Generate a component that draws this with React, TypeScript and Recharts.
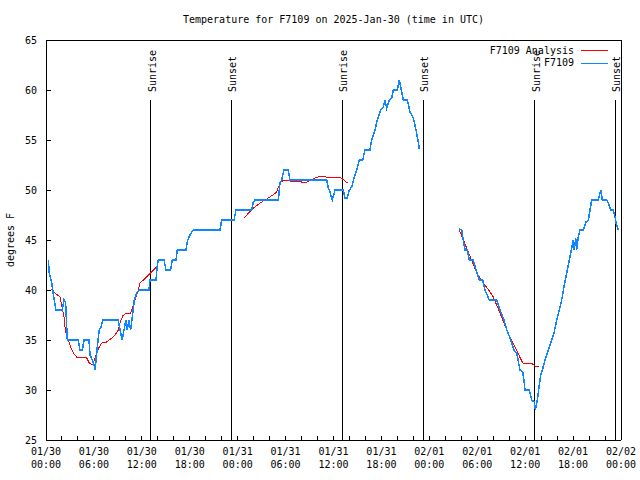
import React from 'react';
import { LineChart, Line, XAxis, YAxis, ReferenceLine, Legend } from 'recharts';

const FONT = '"DejaVu Sans Mono", "Liberation Mono", monospace';
const RED = '#ff0000';
const BLUE = '#0f85ff';

// Observed temperature (F7109): hours since 01/30 00:00 UTC, degrees F (null = gap)
const obsHours = [
  0.29, 0.41, 0.71, 0.84, 1.0, 1.13, 1.25, 2.04, 2.25, 2.46, 2.67, 4.04, 4.26, 4.55, 4.76, 5.38, 5.51, 5.8, 6.01, 6.14,
  6.35, 6.55, 6.67, 6.89, 7.1, 9.05, 9.27, 9.55, 9.77, 9.98, 10.18, 10.39, 10.6, 10.86, 11.06, 11.36, 11.77, 12.9, 13.02, 13.77,
  13.94, 14.06, 14.78, 15.03, 15.61, 15.81, 16.28, 16.44, 17.53, 17.74, 18.03, 18.24, 18.53, 21.79, 22.0, 23.54, 23.79, 25.76, 25.96, 26.17,
  29.09, 29.3, 29.51, 29.8, 30.34, 30.55, 35.15, 35.35, 35.56, 35.85, 36.19, 37.23, 37.44, 37.73, 37.98, 38.28, 38.57, 38.91, 39.23, 39.66,
  39.94, 40.57, 40.78, 41.2, 41.41, 41.91, 42.24, 42.45, 42.66, 42.99, 43.29, 43.49, 43.99, 44.24, 44.42, 44.74, 45.24, 45.58, 45.99, 46.33,
  46.62, 46.74, 49.0,
  51.75, 52.05, 52.25, 52.47, 52.76, 53.01, 53.51, 53.84, 54.26, 54.68, 54.97, 55.51, 56.44, 56.85, 57.35, 57.69, 58.1, 58.6, 58.94, 59.35,
  59.69, 59.85, 59.98, 60.52, 60.82, 61.14, 61.29, 61.52, 61.77, 61.95, 62.15, 62.49, 62.77, 63.02, 63.32, 63.61, 63.95, 64.27, 64.57, 64.86,
  65.2, 65.53, 65.83, 66.03, 66.15, 66.33, 66.45, 66.65, 66.87, 67.28, 67.62, 67.91, 68.12, 68.33, 69.16, 69.46, 69.66, 70.21, 70.41, 70.71,
  71.04, 71.25, 71.38, 71.66,
];
const obsTemps = [
  43, 41.7, 40.7, 40, 39.2, 38.5, 38, 38, 39, 38.7, 35, 35, 34, 34, 35, 35, 33.5, 33, 32.5, 32,
  33.7, 35.3, 36, 36.3, 37, 37, 36, 35, 36, 37, 36, 37, 36, 37.7, 39, 39.7, 40, 40, 41, 41,
  42.5, 43, 43, 42, 42, 43, 43, 44, 44, 45, 45.5, 45.8, 46, 46, 47, 47, 48, 48, 48.8, 49,
  49, 50.7, 51, 52, 52, 51, 51, 50.2, 49.8, 49, 50, 50, 49.2, 49.2, 50, 50.3, 51.2, 52, 53, 53,
  54, 54, 55, 56, 56.8, 58, 58.3, 59, 58.2, 59, 59.2, 60, 60, 61, 60.3, 59, 59, 57.8, 57.2, 56,
  54.8, 54.1, null,
  46.1, 46, 45, 44, 44, 43, 43, 42, 41, 41, 40, 39, 39, 38, 37, 36, 35.2, 34, 33.7, 32,
  31.8, 31, 30, 30, 29, 28.8, 28, 29, 30.5, 31.5, 32, 33, 33.7, 34.3, 35, 35.7, 37, 38, 39, 40.3,
  41.7, 43, 44.2, 45, 44, 45.2, 44, 45.3, 46, 46, 46.8, 47, 48, 49, 49, 50, 49, 49, 48.7, 48,
  48, 47.3, 46.7, 46,
];

// Analysis (F7109 Analysis)
const anaHours = [
  0.71, 1.13, 1.75, 1.97, 2.09, 2.25, 2.38, 2.59, 2.79, 3.09, 3.42, 3.84, 4.35, 4.88, 5.1, 5.42, 5.85, 6.05, 6.35, 6.67,
  6.97, 7.6, 8.23, 8.64, 9.05, 9.27, 9.6, 10.02, 10.61, 10.86, 11.27, 11.56, 11.77, 12.61, 13.44, 13.94,
  20.0,
  24.79, 25.96, 27.01, 28.05, 28.89, 29.3, 29.8, 30.55, 31.39, 32.0, 32.64, 33.68, 34.52, 35.56, 36.81, 37.3, 37.73,
  45.0,
  51.75, 52.88, 53.93, 54.76, 55.6, 56.01, 56.85, 57.69, 58.73, 59.69, 60.94, 61.23, 61.77,
];
const anaTemps = [
  40.1, 39.7, 39.3, 38.5, 38.0, 37.3, 36.3, 35.3, 35.0, 34.3, 33.7, 33.3, 33.3, 33.3, 33.2, 32.7, 32.5, 33.0, 33.7, 34.3,
  34.7, 34.8, 35.2, 35.5, 36.0, 36.7, 37.4, 37.7, 37.7, 38.3, 39.3, 40.0, 40.7, 41.3, 42.0, 42.4,
  null,
  47.2, 48.2, 48.8, 49.3, 49.8, 50.7, 51.0, 50.9, 50.9, 50.8, 50.8, 51.2, 51.4, 51.2, 51.3, 51.0, 50.7,
  null,
  46.0, 43.8, 41.7, 40.7, 39.8, 39.3, 37.7, 36.0, 34.3, 32.7, 32.6, 32.4, 32.4,
];

// Sun events
const sunHours = [13.1, 23.2, 37.1, 47.25, 61.2, 71.3];
const sunLabels = ['Sunrise', 'Sunset', 'Sunrise', 'Sunset', 'Sunrise', 'Sunset'];
const sunLineTop = 59;

// Axes
const xTicks = [0, 2, 4, 6, 8, 10, 12, 14, 16, 18, 20, 22, 24, 26, 28, 30, 32, 34, 36, 38, 40, 42, 44, 46, 48, 50, 52, 54, 56, 58, 60, 62, 64, 66, 68, 70, 72];
const xLabelHours = [0, 6, 12, 18, 24, 30, 36, 42, 48, 54, 60, 66, 72];
const xDateLabels = ['01/30', '01/30', '01/30', '01/30', '01/31', '01/31', '01/31', '01/31', '02/01', '02/01', '02/01', '02/01', '02/02'];
const xTimeLabels = ['00:00', '06:00', '12:00', '18:00', '00:00', '06:00', '12:00', '18:00', '00:00', '06:00', '12:00', '18:00', '00:00'];
const yTicks = [25, 30, 35, 40, 45, 50, 55, 60, 65];
const legendOrder = ['F7109 Analysis', 'F7109'];

const obsData = obsHours.map((h, i) => ({ h, t: obsTemps[i] }));
const anaData = anaHours.map((h, i) => ({ h, t: anaTemps[i] }));

const XTick = (props: any) => {
  const { x, y, payload } = props;
  const idx = xLabelHours.indexOf(payload.value);
  if (idx < 0) return <g />;
  return (
    <text x={x} y={y} textAnchor="middle" fontSize={10} fontFamily={FONT} fill="#000">
      <tspan x={x} y={y + 19}>{xDateLabels[idx]}</tspan>
      <tspan x={x} y={y + 32}>{xTimeLabels[idx]}</tspan>
    </text>
  );
};

const sunLabel = (text: string) => (props: any) => {
  const vb = props.viewBox || {};
  const x = vb.x + 5;
  const y = vb.y - 8;
  return (
    <text x={x} y={y} transform={`rotate(-90 ${x} ${y})`} fontSize={10} fontFamily={FONT} fill="#000">
      {text}
    </text>
  );
};

const LegendBox = (props: any) => {
  const payload = [...(props.payload || [])].sort(
    (a: any, b: any) => legendOrder.indexOf(a.value) - legendOrder.indexOf(b.value)
  );
  return (
    <svg width={150} height={32} style={{ display: 'block' }}>
      {payload.map((e: any, i: number) => (
        <g key={i}>
          <text x={94} y={13.5 + i * 12.7} textAnchor="end" fontSize={10} fontFamily={FONT} fill="#000">
            {e.value}
          </text>
          <line
            x1={101}
            x2={128}
            y1={10.5 + i * 13}
            y2={10.5 + i * 13}
            stroke={e.color}
            strokeWidth={1}
            shapeRendering="crispEdges"
          />
        </g>
      ))}
    </svg>
  );
};

const crisp = { shapeRendering: 'crispEdges' } as any;

export default function App() {
  return (
    <div style={{ position: 'absolute', left: 0, top: 0, width: 640, height: 480, background: '#fff' }}>
      <LineChart width={640} height={480} margin={{ top: 39, right: 18, bottom: 0, left: 0 }}>
        <XAxis
          xAxisId="b"
          dataKey="h"
          type="number"
          domain={[0, 72]}
          ticks={xTicks}
          interval={0}
          orientation="bottom"
          height={40}
          tickSize={-4}
          tickMargin={0}
          tick={<XTick />}
          axisLine={{ stroke: '#000', ...crisp }}
          tickLine={{ stroke: '#000', ...crisp }}
          allowDataOverflow
        />
        <XAxis
          xAxisId="t"
          dataKey="h"
          type="number"
          domain={[0, 72]}
          ticks={xTicks}
          interval={0}
          orientation="top"
          height={1}
          tickSize={-4}
          tick={false}
          axisLine={{ stroke: '#000', ...crisp }}
          tickLine={{ stroke: '#000', ...crisp }}
          allowDataOverflow
        />
        <YAxis
          yAxisId="l"
          type="number"
          domain={[25, 65]}
          ticks={yTicks}
          interval={0}
          orientation="left"
          width={46}
          tickSize={-5}
          tickMargin={14}
          tick={{ fontSize: 10, fontFamily: FONT, fill: '#000' }}
          axisLine={{ stroke: '#000', ...crisp }}
          tickLine={{ stroke: '#000', ...crisp }}
          allowDataOverflow
        />
        <YAxis
          yAxisId="r"
          type="number"
          domain={[25, 65]}
          ticks={yTicks}
          interval={0}
          orientation="right"
          width={1}
          tickSize={-5}
          tick={false}
          axisLine={{ stroke: '#000', ...crisp }}
          tickLine={{ stroke: '#000', ...crisp }}
          allowDataOverflow
        />
        {sunHours.map((h, i) => (
          <ReferenceLine
            key={i}
            xAxisId="b"
            yAxisId="l"
            segment={[
              { x: h, y: 25 },
              { x: h, y: sunLineTop },
            ]}
            stroke="#000"
            strokeWidth={1}
            shapeRendering="crispEdges"
            label={sunLabel(sunLabels[i])}
          />
        ))}
        <Line
          xAxisId="b"
          yAxisId="l"
          data={anaData}
          dataKey="t"
          name="F7109 Analysis"
          type="linear"
          stroke={RED}
          strokeWidth={1}
          dot={false}
          activeDot={false}
          connectNulls={false}
          isAnimationActive={false}
          shapeRendering="crispEdges"
        />
        <Line
          xAxisId="b"
          yAxisId="l"
          data={obsData}
          dataKey="t"
          name="F7109"
          type="linear"
          stroke={BLUE}
          strokeWidth={1.5}
          dot={false}
          activeDot={false}
          connectNulls={false}
          isAnimationActive={false}
          shapeRendering="crispEdges"
        />
        <Legend
          layout="vertical"
          align="center"
          verticalAlign="middle"
          content={<LegendBox />}
          wrapperStyle={{ position: 'absolute', left: 480, top: 40, width: 150, height: 32 }}
        />
      </LineChart>
      <svg width={640} height={480} style={{ position: 'absolute', left: 0, top: 0, pointerEvents: 'none' }}>
        <text x={333.5} y={23} textAnchor="middle" fontSize={10} fontFamily={FONT} fill="#000">
          Temperature for F7109 on 2025-Jan-30 (time in UTC)
        </text>
        <text x={14} y={240} transform="rotate(-90 14 240)" textAnchor="middle" fontSize={10} fontFamily={FONT} fill="#000">
          degrees F
        </text>
      </svg>
    </div>
  );
}
